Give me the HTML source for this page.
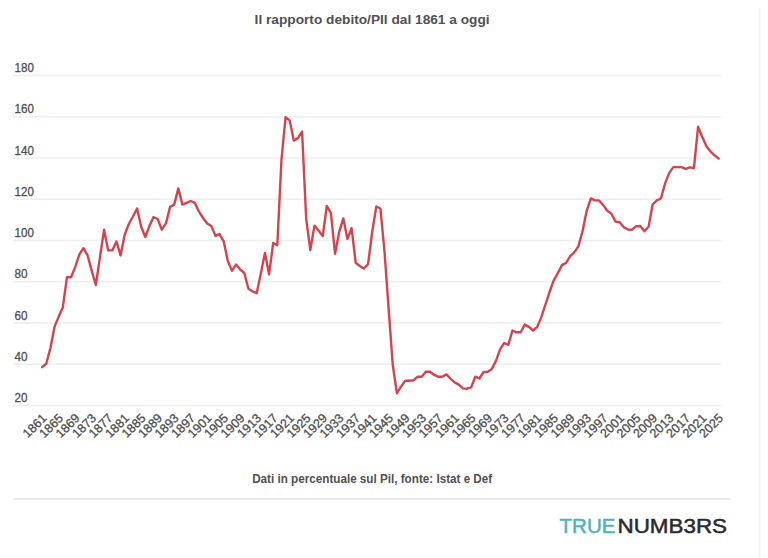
<!DOCTYPE html>
<html><head><meta charset="utf-8"><style>
html,body{margin:0;padding:0;background:#fff;width:768px;height:558px;overflow:hidden}
svg{position:absolute;left:0;top:0}
</style></head><body>
<svg width="768" height="558" viewBox="0 0 768 558">
<rect x="758.5" y="8" width="2" height="550" fill="#f4f4f4"/>
<text x="254.6" y="24.4" font-family="'Liberation Sans', sans-serif" font-weight="bold" font-size="13.7" fill="#505050" textLength="235" lengthAdjust="spacingAndGlyphs">Il rapporto debito/PIl dal 1861 a oggi</text>
<g stroke="#eeeeee" stroke-width="1.5">
<line x1="13" y1="75.50" x2="721.5" y2="75.50"/><line x1="13" y1="116.75" x2="721.5" y2="116.75"/><line x1="13" y1="158.00" x2="721.5" y2="158.00"/><line x1="13" y1="199.25" x2="721.5" y2="199.25"/><line x1="13" y1="240.50" x2="721.5" y2="240.50"/><line x1="13" y1="281.75" x2="721.5" y2="281.75"/><line x1="13" y1="323.00" x2="721.5" y2="323.00"/><line x1="13" y1="364.25" x2="721.5" y2="364.25"/><line x1="13" y1="405.50" x2="721.5" y2="405.50"/>
</g>
<g font-family="'Liberation Sans', sans-serif" font-size="13" fill="#4d4d4d" stroke="#4d4d4d" stroke-width="0.3">
<text x="14.6" y="72.00" textLength="19.3" lengthAdjust="spacingAndGlyphs">180</text><text x="14.6" y="113.25" textLength="19.3" lengthAdjust="spacingAndGlyphs">160</text><text x="14.6" y="154.50" textLength="19.3" lengthAdjust="spacingAndGlyphs">140</text><text x="14.6" y="195.75" textLength="19.3" lengthAdjust="spacingAndGlyphs">120</text><text x="14.6" y="237.00" textLength="19.3" lengthAdjust="spacingAndGlyphs">100</text><text x="14.6" y="278.25" textLength="13" lengthAdjust="spacingAndGlyphs">80</text><text x="14.6" y="319.50" textLength="13" lengthAdjust="spacingAndGlyphs">60</text><text x="14.6" y="360.75" textLength="13" lengthAdjust="spacingAndGlyphs">40</text><text x="14.6" y="402.00" textLength="13" lengthAdjust="spacingAndGlyphs">20</text>
</g>
<g font-family="'Liberation Sans', sans-serif" font-size="12.5" fill="#4d4d4d" stroke="#4d4d4d" stroke-width="0.3" text-anchor="end">
<text transform="translate(47.50,418.9) rotate(-45)">1861</text><text transform="translate(64.00,418.9) rotate(-45)">1865</text><text transform="translate(80.50,418.9) rotate(-45)">1869</text><text transform="translate(97.00,418.9) rotate(-45)">1873</text><text transform="translate(113.50,418.9) rotate(-45)">1877</text><text transform="translate(130.00,418.9) rotate(-45)">1881</text><text transform="translate(146.50,418.9) rotate(-45)">1885</text><text transform="translate(163.00,418.9) rotate(-45)">1889</text><text transform="translate(179.50,418.9) rotate(-45)">1893</text><text transform="translate(196.00,418.9) rotate(-45)">1897</text><text transform="translate(212.50,418.9) rotate(-45)">1901</text><text transform="translate(229.00,418.9) rotate(-45)">1905</text><text transform="translate(245.50,418.9) rotate(-45)">1909</text><text transform="translate(262.00,418.9) rotate(-45)">1913</text><text transform="translate(278.50,418.9) rotate(-45)">1917</text><text transform="translate(295.00,418.9) rotate(-45)">1921</text><text transform="translate(311.50,418.9) rotate(-45)">1925</text><text transform="translate(328.00,418.9) rotate(-45)">1929</text><text transform="translate(344.50,418.9) rotate(-45)">1933</text><text transform="translate(361.00,418.9) rotate(-45)">1937</text><text transform="translate(377.50,418.9) rotate(-45)">1941</text><text transform="translate(394.00,418.9) rotate(-45)">1945</text><text transform="translate(410.50,418.9) rotate(-45)">1949</text><text transform="translate(427.00,418.9) rotate(-45)">1953</text><text transform="translate(443.50,418.9) rotate(-45)">1957</text><text transform="translate(460.00,418.9) rotate(-45)">1961</text><text transform="translate(476.50,418.9) rotate(-45)">1965</text><text transform="translate(493.00,418.9) rotate(-45)">1969</text><text transform="translate(509.50,418.9) rotate(-45)">1973</text><text transform="translate(526.00,418.9) rotate(-45)">1977</text><text transform="translate(542.50,418.9) rotate(-45)">1981</text><text transform="translate(559.00,418.9) rotate(-45)">1985</text><text transform="translate(575.50,418.9) rotate(-45)">1989</text><text transform="translate(592.00,418.9) rotate(-45)">1993</text><text transform="translate(608.50,418.9) rotate(-45)">1997</text><text transform="translate(625.00,418.9) rotate(-45)">2001</text><text transform="translate(641.50,418.9) rotate(-45)">2005</text><text transform="translate(658.00,418.9) rotate(-45)">2009</text><text transform="translate(674.50,418.9) rotate(-45)">2013</text><text transform="translate(691.00,418.9) rotate(-45)">2017</text><text transform="translate(707.50,418.9) rotate(-45)">2021</text><text transform="translate(724.00,418.9) rotate(-45)">2025</text>
</g>
<polyline fill="none" stroke="#d4434e" stroke-width="2.4" stroke-linejoin="round" stroke-linecap="round" points="42.20,367.2 46.33,363.5 50.45,348.0 54.58,326.6 58.70,316.6 62.83,307.4 66.95,277.3 71.08,277.3 75.20,267.1 79.33,254.5 83.45,248.2 87.58,255.4 91.70,270.6 95.83,285.0 99.95,257.4 104.08,229.8 108.20,250.4 112.33,250.4 116.45,241.4 120.58,255.4 124.70,234.8 128.82,224.0 132.95,216.5 137.07,208.5 141.20,226.7 145.32,237.0 149.45,225.8 153.57,217.0 157.70,219.0 161.82,229.7 165.95,223.4 170.07,206.9 174.20,204.6 178.32,188.4 182.45,204.6 186.57,202.8 190.70,201.0 194.82,202.8 198.95,211.7 203.07,218.0 207.20,223.4 211.32,226.1 215.45,235.9 219.57,234.1 223.70,241.3 227.82,261.0 231.95,270.9 236.07,264.6 240.20,269.5 244.32,273.0 248.45,288.7 252.57,291.4 256.70,293.2 260.82,273.5 264.95,252.9 269.07,274.4 273.20,243.0 277.32,245.2 281.45,160.0 285.57,117.2 289.70,120.4 293.82,140.5 297.95,138.1 302.07,131.6 306.20,219.0 310.32,250.0 314.45,225.6 318.57,230.5 322.70,236.1 326.82,206.0 330.95,213.1 335.07,253.9 339.20,231.8 343.32,218.4 347.45,238.9 351.57,228.1 355.70,262.7 359.82,266.0 363.95,268.5 368.07,264.2 372.20,232.0 376.32,206.5 380.45,208.5 384.57,252.3 388.70,309.6 392.82,365.5 396.95,393.2 401.07,386.6 405.20,380.7 409.32,380.7 413.45,380.3 417.57,376.7 421.70,376.7 425.82,371.8 429.95,371.8 434.07,374.8 438.20,376.7 442.32,376.7 446.45,374.4 450.57,378.8 454.70,382.4 458.82,384.6 462.95,388.4 467.07,388.7 471.20,387.3 475.32,376.7 479.45,378.5 483.57,372.0 487.70,371.7 491.82,369.0 495.95,360.9 500.07,349.3 504.20,343.0 508.32,344.8 512.45,330.5 516.58,332.3 520.70,332.3 524.83,324.6 528.95,326.9 533.08,330.5 537.20,326.9 541.33,317.1 545.45,304.5 549.58,292.0 553.70,280.3 557.83,273.2 561.95,265.1 566.08,262.9 570.20,256.1 574.33,252.3 578.45,246.1 582.58,231.0 586.70,210.8 590.83,198.4 594.95,200.4 599.08,200.5 603.20,205.1 607.33,210.8 611.45,213.7 615.58,221.6 619.70,222.3 623.83,227.3 627.95,229.5 632.08,229.7 636.20,226.2 640.33,226.0 644.45,231.2 648.58,226.8 652.70,204.3 656.83,200.4 660.95,198.5 665.08,183.4 669.20,172.9 673.33,167.1 677.45,167.1 681.58,167.1 685.70,168.9 689.83,167.3 693.95,168.2 698.08,126.8 702.20,136.8 706.33,146.1 710.45,151.5 714.58,155.4 718.70,158.5"/>
<text x="252.2" y="483.3" font-family="'Liberation Sans', sans-serif" font-weight="bold" font-size="12.5" fill="#505050" textLength="240" lengthAdjust="spacingAndGlyphs">Dati in percentuale sul Pil, fonte: Istat e Def</text>
<rect x="13.5" y="498" width="717" height="2" fill="#ececec"/>
<g font-family="'Liberation Sans', sans-serif" font-size="19.6" stroke-width="0.5"><text x="559.5" y="533" fill="#4fb3bb" stroke="#4fb3bb" textLength="56" lengthAdjust="spacingAndGlyphs">TRUE</text><text x="617.5" y="533" fill="#2b2b2b" stroke="#2b2b2b" textLength="109.5" lengthAdjust="spacingAndGlyphs">NUMB3RS</text></g>
</svg>
</body></html>
